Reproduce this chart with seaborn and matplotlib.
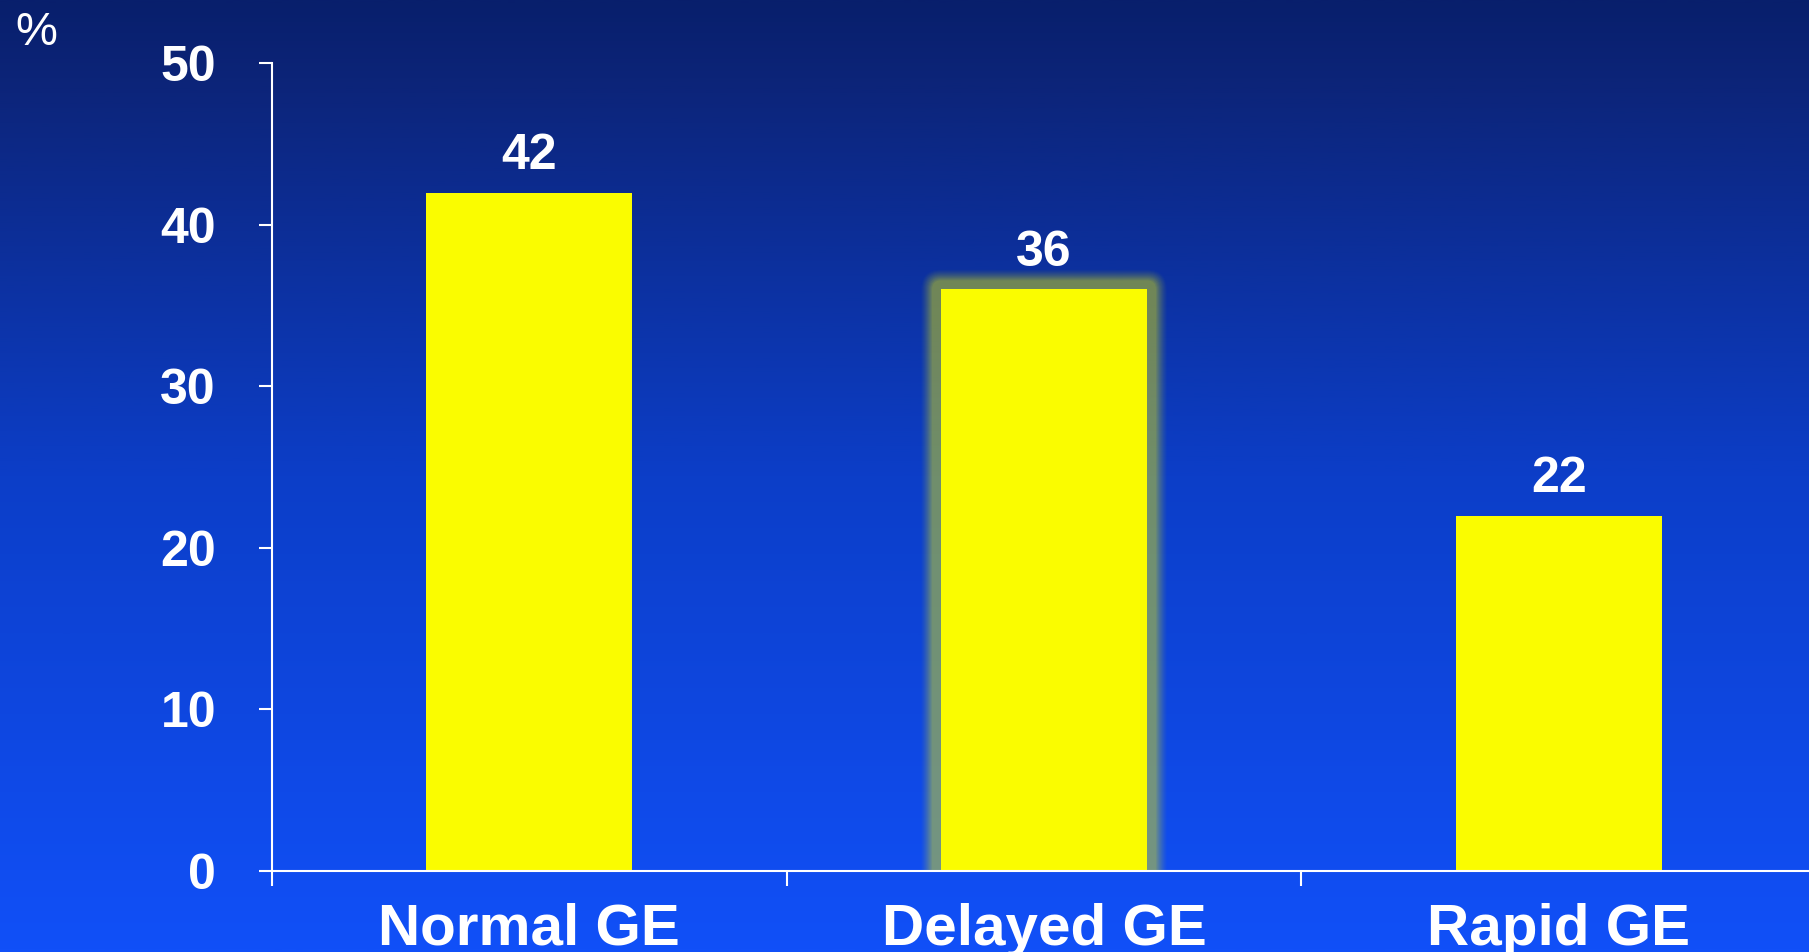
import numpy as np
import matplotlib
matplotlib.use("Agg")
import matplotlib.pyplot as plt
from matplotlib.patches import FancyBboxPatch
from matplotlib.transforms import IdentityTransform
from matplotlib.colors import LinearSegmentedColormap
import seaborn as sns

# Data
categories = ["Normal GE", "Delayed GE", "Rapid GE"]
values = [42, 36, 22]
y_ticks = [0, 10, 20, 30, 40, 50]
unit_label = "%"
highlight = "Delayed GE"

BAR_COLOR = "#fafc00"

sns.set_style("ticks")
plt.rcParams["font.family"] = ["Liberation Sans", "DejaVu Sans"]

W, H, DPI = 1809, 952, 100
fig = plt.figure(figsize=(W / DPI, H / DPI), dpi=DPI)

# Vertical blue gradient background
bg = fig.add_axes([0, 0, 1, 1], zorder=0)
cmap = LinearSegmentedColormap.from_list(
    "bg", [(0.0, "#081f6c"), (0.08, "#0c2478"), (0.5, "#0c3ec8"), (1.0, "#1150f8")]
)
grad = np.linspace(0, 1, 512).reshape(-1, 1)
bg.imshow(grad, aspect="auto", cmap=cmap, extent=[0, 1, 0, 1], origin="upper")
bg.set_axis_off()

# Main plotting area
y0_px, y50_px = 870.8, 63.3
x_left_px, x_right_px = 272, 1816
ax = fig.add_axes(
    [x_left_px / W, (H - y0_px) / H, (x_right_px - x_left_px) / W, (y0_px - y50_px) / H],
    zorder=1,
)
ax.patch.set_alpha(0)

sns.barplot(x=categories, y=values, color=BAR_COLOR, width=0.4, saturation=1,
            edgecolor="none", linewidth=0, ax=ax, zorder=3)

ax.set_xlim(-0.5, 2.5)
ax.set_ylim(0, 50)
ax.set_xlabel("")
ax.set_ylabel("")

# Spines
for side in ("top", "right"):
    ax.spines[side].set_visible(False)
for side in ("left", "bottom"):
    ax.spines[side].set_color("white")
    ax.spines[side].set_linewidth(1.5)
    ax.spines[side].set_zorder(4)

# Y axis ticks
ax.set_yticks(y_ticks)
ax.set_yticklabels([str(t) for t in y_ticks], fontsize=36, fontweight="bold", color="white")
ax.tick_params(axis="y", length=9.4, width=1.5, color="white", pad=31)

# X axis: separator ticks at category boundaries, labels at centers
ax.set_xticks([-0.5, 0.5, 1.5, 2.5])
ax.set_xticklabels([])
ax.set_xticks([0, 1, 2], minor=True)
ax.set_xticklabels(categories, minor=True, fontsize=42, fontweight="bold", color="white")
ax.tick_params(axis="x", which="major", length=10.8, width=1.5, color="white")
ax.tick_params(axis="x", which="minor", length=0, pad=23)

# Value labels
container = ax.containers[0]
ax.bar_label(container, labels=[str(v) for v in values], padding=10,
             fontsize=36, fontweight="bold", color="white")

# Soft glow around the highlighted bar
bar = container.patches[categories.index(highlight)]
(bx0, by0), (bx1, by1) = ax.transData.transform(
    [(bar.get_x(), 0), (bar.get_x() + bar.get_width(), bar.get_height())]
)
R = 20
plateau = 9
target = np.array([0.44 if d <= plateau else 0.44 * (1 - (d - plateau) / (R - plateau + 1)) ** 1.3
                   for d in range(1, R + 1)] + [0.0])
for d in range(R, 0, -1):
    t_in, t_out = target[d - 1], target[d]
    a = 1 - (1 - t_in) / (1 - t_out)
    if a <= 0:
        continue
    glow = FancyBboxPatch(
        (bx0 - d, by0 - d), (bx1 - bx0) + 2 * d, (by1 - by0) + 2 * d,
        boxstyle=f"round,pad=0,rounding_size={d}",
        transform=IdentityTransform(), facecolor=BAR_COLOR, edgecolor="none",
        alpha=a, zorder=2,
    )
    ax.add_patch(glow)

ax.set_xlim(-0.5, 2.5)
ax.set_ylim(0, 50)

# Unit label in the corner
fig.text(15 / W, (H - 45) / H, unit_label, fontsize=34, color="white",
         ha="left", va="baseline")

fig.savefig("out.png", dpi=DPI)
